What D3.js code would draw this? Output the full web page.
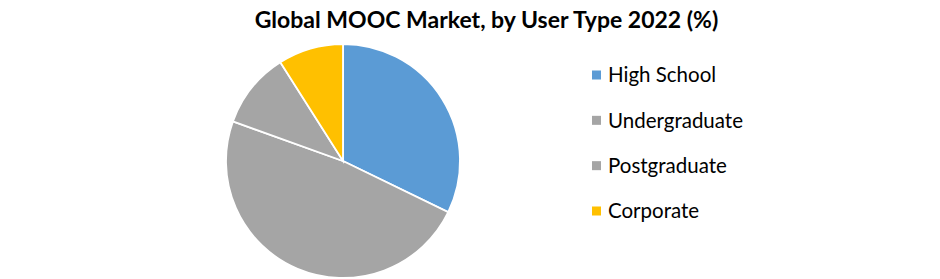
<!DOCTYPE html>
<html>
<head>
<meta charset="utf-8">
<script src="https://cdn.jsdelivr.net/npm/d3@7"></script>
<style>
    body { margin: 0; background: #fff; }
    svg { display: block; }
</style>
</head>
<body>
<div id="chart"></div>
<script>
// chart data
var categories = ["High School", "Undergraduate", "Postgraduate", "Corporate"];
var shares = [32.2, 48.3, 10.5, 9.0];
var colors = ["#5B9BD5", "#A5A5A5", "#A5A5A5", "#FFC000"];
var title = "Global MOOC Market, by User Type 2022 (%)";

var width = 940, height = 279;
var fontFamily = "Lato, 'Open Sans', sans-serif";

var svg = d3.select("#chart").append("svg")
    .attr("width", width)
    .attr("height", height);

svg.append("rect")
    .attr("width", width)
    .attr("height", height)
    .attr("fill", "#fff");

// title
svg.append("text")
    .attr("x", 486.5)
    .attr("y", 28)
    .attr("text-anchor", "middle")
    .style("font-family", fontFamily)
    .style("font-weight", "bold")
    .style("font-size", "23px")
    .attr("fill", "#000")
    .text(title);

// pie
var data = categories.map(function (c, i) {
    return { name: c, value: shares[i], color: colors[i] };
});

var pie = d3.pie()
    .sort(null)
    .value(function (d) { return d.value; });

var arc = d3.arc()
    .innerRadius(0)
    .outerRadius(117);

var pieGroup = svg.append("g")
    .attr("transform", "translate(343,161)");

pieGroup.selectAll("path")
    .data(pie(data))
    .enter()
    .append("path")
    .attr("d", arc)
    .attr("fill", function (d) { return d.data.color; })
    .attr("stroke", "#fff")
    .attr("stroke-width", 1.8);

// legend
var legendY = d3.scalePoint()
    .domain(categories)
    .range([75, 211]);

var items = svg.append("g")
    .selectAll("g")
    .data(data)
    .enter()
    .append("g")
    .attr("transform", function (d) { return "translate(0," + legendY(d.name) + ")"; });

items.append("rect")
    .attr("x", 592)
    .attr("y", -4.5)
    .attr("width", 9)
    .attr("height", 9)
    .attr("fill", function (d) { return d.color; });

items.append("text")
    .attr("x", 608)
    .attr("y", 0)
    .attr("dy", "0.35em")
    .style("font-family", fontFamily)
    .style("font-size", "20.5px")
    .attr("fill", "#000")
    .text(function (d) { return d.name; });
</script>
</body>
</html>
